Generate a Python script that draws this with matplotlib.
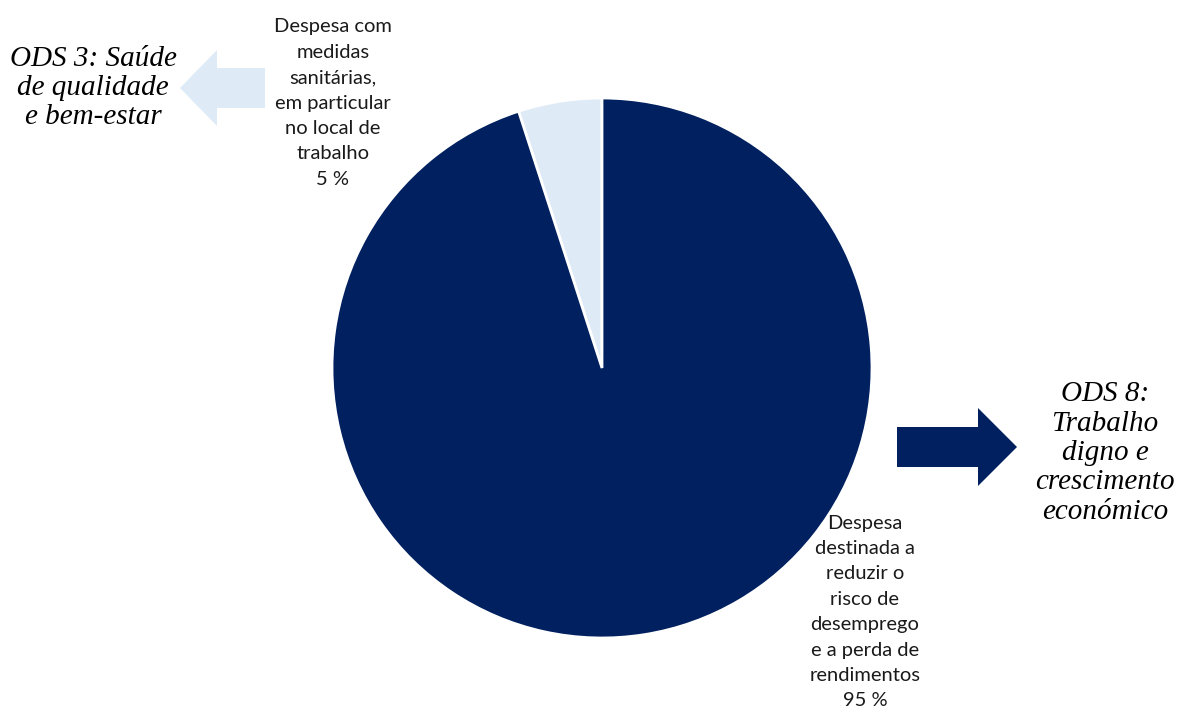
import matplotlib
matplotlib.use("Agg")
import matplotlib.pyplot as plt
from matplotlib.patches import Polygon

# dados
categorias = ["Despesa com\nmedidas\nsanitárias,\nem particular\nno local de\ntrabalho",
              "Despesa\ndestinada a\nreduzir o\nrisco de\ndesemprego\ne a perda de\nrendimentos"]
valores = [5, 95]
cores = ["#DEEAF6", "#002060"]
ods = ["ODS 3: Saúde\nde qualidade\ne bem-estar",
       "ODS 8:\nTrabalho\ndigno e\ncrescimento\neconómico"]

W, H = 1178, 715
fig = plt.figure(figsize=(W / 100, H / 100), dpi=100)
ax = fig.add_axes([0, 0, 1, 1])

ax.pie(valores, colors=cores, startangle=90, counterclock=True,
       center=(602, 347), radius=270,
       wedgeprops=dict(edgecolor="white", linewidth=2))
ax.set_xlim(0, W)
ax.set_ylim(0, H)
ax.set_aspect("equal")
ax.axis("off")

# rótulos das fatias
rotulo_font = dict(family="Lato", fontsize=14.5, color="#1a1a1a",
                   ha="center", va="center", linespacing=1.6)
ax.text(333, H - 103, f"{categorias[0]}\n{valores[0]} %", **rotulo_font)
ax.text(865, H - 612, f"{categorias[1]}\n{valores[1]} %", **rotulo_font)

# textos ODS
ods_font = dict(family="Liberation Serif", style="italic", fontsize=21,
                color="black", ha="center", va="center", linespacing=1.17)
ax.text(93, H - 88, ods[0], **ods_font)
ax.text(1105, H - 453, ods[1], **ods_font)

# setas
def seta(x0, x1, yc, meia_haste, meia_cabeca, x_base, cor):
    pts = [(x0, yc + meia_haste), (x_base, yc + meia_haste), (x_base, yc + meia_cabeca),
           (x1, yc), (x_base, yc - meia_cabeca), (x_base, yc - meia_haste),
           (x0, yc - meia_haste)]
    ax.add_patch(Polygon([(x, H - y) for x, y in pts], closed=True,
                         facecolor=cor, edgecolor="none"))

seta(265, 180, 88, 20, 38, 217, cores[0])
seta(897, 1017, 447, 20, 39, 978, cores[1])

fig.savefig("out.png", dpi=100, facecolor="white")
